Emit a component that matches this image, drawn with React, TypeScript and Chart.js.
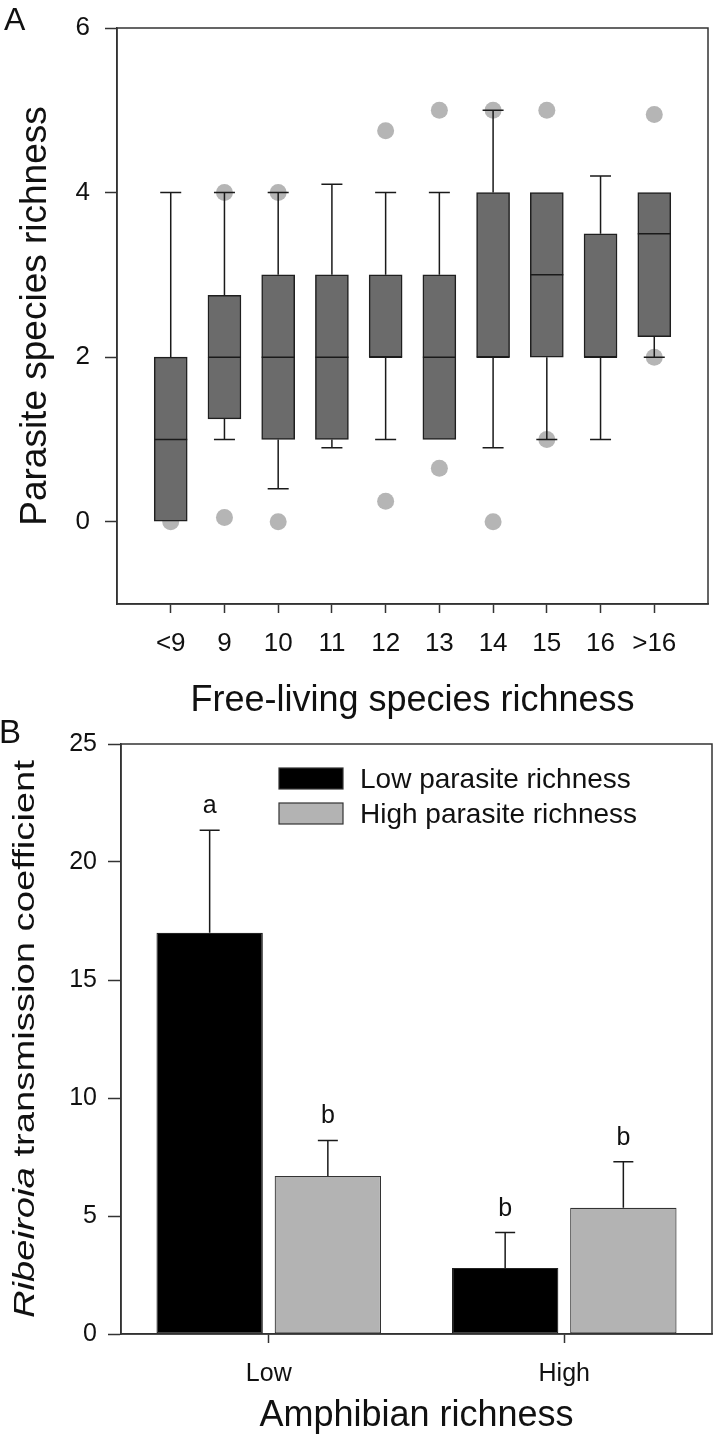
import React, { useEffect, useRef } from 'react';
import { Chart, registerables } from 'chart.js';

Chart.register(...registerables);

const FONT = "'Liberation Sans', Arial, Helvetica, sans-serif";

// ---------- Panel A data ----------
const categoriesA = ['<9', '9', '10', '11', '12', '13', '14', '15', '16', '>16'];
const whiskerLowA = [0, 1, 0.4, 0.9, 1, 1, 0.9, 1, 1, 2];
const q1A = [0, 1.25, 1, 1, 2, 1, 2, 2, 2, 2.25];
const medianA = [1, 2, 2, 2, 2, 2, 2, 3, 2, 3.5];
const q3A = [2, 2.75, 3, 3, 3, 3, 4, 4, 3.5, 4];
const whiskerHighA = [4, 4, 4, 4.1, 4, 4, 5, 4, 4.2, 4];
const outlierCatA = [0, 1, 1, 2, 2, 4, 4, 5, 5, 6, 6, 7, 7, 9, 9];
const outlierValA = [0, 4, 0.05, 4, 0, 4.75, 0.25, 5, 0.65, 5, 0, 5, 1, 4.95, 2];
const yTicksA = [0, 2, 4, 6];

// ---------- Panel B data ----------
const groupsB = ['Low', 'High'];
const seriesNamesB = ['Low parasite richness', 'High parasite richness'];
const lowParasiteB = [17.0, 2.8];
const highParasiteB = [6.7, 5.35];
const lowParasiteUpperB = [21.35, 4.3];
const highParasiteUpperB = [8.2, 7.3];
const lowLettersB = ['a', 'b'];
const highLettersB = ['b', 'b'];

const AXIS_COLOR = '#333';
const TEXT_COLOR = '#111';

const framePlugin = {
  id: 'frame',
  afterDraw(chart: any) {
    const { ctx, chartArea } = chart;
    ctx.save();
    ctx.strokeStyle = AXIS_COLOR;
    ctx.lineWidth = 1.5;
    ctx.strokeRect(chartArea.left, chartArea.top, chartArea.right - chartArea.left, chartArea.bottom - chartArea.top);
    ctx.restore();
  },
};

function panelLetter(letter: string, x: number, y: number, size: number) {
  return {
    id: 'panelLetter' + letter,
    afterDraw(chart: any) {
      const { ctx } = chart;
      ctx.save();
      ctx.fillStyle = TEXT_COLOR;
      ctx.font = `${size}px ${FONT}`;
      ctx.textBaseline = 'alphabetic';
      ctx.textAlign = 'left';
      ctx.fillText(letter, x, y);
      ctx.restore();
    },
  };
}

const boxPlugin = {
  id: 'boxWhiskers',
  afterDatasetsDraw(chart: any) {
    const { ctx } = chart;
    const xs = chart.scales.x;
    const ys = chart.scales.y;
    const capHalf = 10.5;
    const boxHalf = 16.5;
    ctx.save();
    ctx.strokeStyle = '#1a1a1a';
    ctx.lineWidth = 1.5;
    categoriesA.forEach((_, i) => {
      const x = xs.getPixelForValue(i + 1);
      const pQ1 = ys.getPixelForValue(q1A[i]);
      const pQ3 = ys.getPixelForValue(q3A[i]);
      const pLo = ys.getPixelForValue(whiskerLowA[i]);
      const pHi = ys.getPixelForValue(whiskerHighA[i]);
      const pMed = ys.getPixelForValue(medianA[i]);
      ctx.beginPath();
      if (whiskerHighA[i] > q3A[i]) {
        ctx.moveTo(x, pQ3);
        ctx.lineTo(x, pHi);
        ctx.moveTo(x - capHalf, pHi);
        ctx.lineTo(x + capHalf, pHi);
      }
      if (whiskerLowA[i] < q1A[i]) {
        ctx.moveTo(x, pQ1);
        ctx.lineTo(x, pLo);
        ctx.moveTo(x - capHalf, pLo);
        ctx.lineTo(x + capHalf, pLo);
      }
      ctx.moveTo(x - boxHalf, pMed);
      ctx.lineTo(x + boxHalf, pMed);
      ctx.stroke();
    });
    ctx.restore();
  },
};

const errorBarPlugin = {
  id: 'errorBars',
  afterDatasetsDraw(chart: any) {
    const { ctx } = chart;
    const ys = chart.scales.y;
    const uppers = [lowParasiteUpperB, highParasiteUpperB];
    const letters = [lowLettersB, highLettersB];
    ctx.save();
    ctx.strokeStyle = '#1a1a1a';
    ctx.lineWidth = 1.5;
    ctx.fillStyle = TEXT_COLOR;
    ctx.font = `25px ${FONT}`;
    ctx.textAlign = 'center';
    ctx.textBaseline = 'alphabetic';
    uppers.forEach((up, d) => {
      const meta = chart.getDatasetMeta(d);
      meta.data.forEach((el: any, i: number) => {
        const x = el.x;
        const yTop = el.y;
        const yErr = ys.getPixelForValue(up[i]);
        ctx.beginPath();
        ctx.moveTo(x, yTop);
        ctx.lineTo(x, yErr);
        ctx.moveTo(x - 10, yErr);
        ctx.lineTo(x + 10, yErr);
        ctx.stroke();
        ctx.fillText(letters[d][i], x, yErr - 17);
      });
    });
    ctx.restore();
  },
};

const legendPluginB = {
  id: 'legendB',
  afterDraw(chart: any) {
    const { ctx } = chart;
    const rows = [48, 83];
    ctx.save();
    chart.data.datasets.forEach((ds: any, d: number) => {
      const y = rows[d];
      ctx.fillStyle = ds.backgroundColor;
      ctx.fillRect(279, y, 64, 21);
      ctx.strokeStyle = '#333';
      ctx.lineWidth = 1.2;
      ctx.strokeRect(279, y, 64, 21);
      ctx.fillStyle = TEXT_COLOR;
      ctx.font = `28px ${FONT}`;
      ctx.textAlign = 'left';
      ctx.textBaseline = 'alphabetic';
      ctx.fillText(ds.label, 360, y + 20);
    });
    ctx.restore();
  },
};

const yTitlePluginB = {
  id: 'yTitleB',
  afterDraw(chart: any) {
    const { ctx, chartArea } = chart;
    const cy = (chartArea.top + chartArea.bottom) / 2;
    const size = 30;
    const targetLen = 558;
    ctx.save();
    ctx.font = `italic ${size}px ${FONT}`;
    const w1 = ctx.measureText('Ribeiroia').width;
    ctx.font = `${size}px ${FONT}`;
    const w2 = ctx.measureText(' transmission coefficient').width;
    const total = w1 + w2;
    const sx = targetLen / total;
    ctx.translate(34, cy);
    ctx.rotate(-Math.PI / 2);
    ctx.scale(sx, 1);
    ctx.fillStyle = TEXT_COLOR;
    ctx.textAlign = 'left';
    ctx.textBaseline = 'alphabetic';
    ctx.font = `italic ${size}px ${FONT}`;
    ctx.fillText('Ribeiroia', -total / 2, 0);
    ctx.font = `${size}px ${FONT}`;
    ctx.fillText(' transmission coefficient', -total / 2 + w1, 0);
    ctx.restore();
  },
};

function axisGrid(tickLength: number) {
  return {
    display: true,
    drawOnChartArea: false,
    drawTicks: true,
    offset: false,
    tickLength,
    tickColor: AXIS_COLOR,
    tickWidth: 1.5,
  };
}

const borderStyle = { display: true, color: AXIS_COLOR, width: 1.5 };

export default function App() {
  const refA = useRef<HTMLCanvasElement>(null);
  const refB = useRef<HTMLCanvasElement>(null);

  useEffect(() => {
    Chart.defaults.font.family = FONT;
    Chart.defaults.color = TEXT_COLOR;

    const boxData = categoriesA.map((_, i) => ({ x: i + 1, y: [q1A[i], q3A[i]] }));
    const outlierData = outlierCatA.map((c, i) => ({ x: c + 1, y: outlierValA[i] }));

    const chartA = new Chart(refA.current as HTMLCanvasElement, {
      type: 'bar',
      data: {
        datasets: [
          {
            type: 'scatter',
            data: outlierData,
            pointRadius: 8.5,
            pointBackgroundColor: '#b5b5b5',
            pointBorderWidth: 0,
            backgroundColor: '#b5b5b5',
            borderWidth: 0,
            order: 2,
          } as any,
          {
            type: 'bar',
            data: boxData as any,
            barThickness: 33,
            backgroundColor: '#6b6b6b',
            borderColor: '#1f1f1f',
            borderWidth: 1.5,
            borderSkipped: false,
            order: 1,
          } as any,
        ],
      },
      options: {
        responsive: false,
        animation: false,
        layout: { padding: { left: 0, right: 9, top: 14, bottom: 0 } },
        plugins: { legend: { display: false }, tooltip: { enabled: false } },
        scales: {
          x: {
            type: 'linear',
            min: 0,
            max: 11,
            offset: false,
            afterBuildTicks: (s: any) => {
              s.ticks = categoriesA.map((_, i) => ({ value: i + 1 }));
            },
            afterFit: (s: any) => {
              s.height = 116;
            },
            ticks: {
              callback: (v: any) => categoriesA[Math.round(Number(v)) - 1] ?? '',
              font: { size: 26, lineHeight: 1 },
              color: TEXT_COLOR,
              padding: 18,
              maxRotation: 0,
              autoSkip: false,
            },
            grid: axisGrid(9),
            border: borderStyle,
            title: {
              display: true,
              text: 'Free-living species richness',
              font: { size: 36, lineHeight: 1 },
              color: TEXT_COLOR,
              padding: { top: 0, bottom: 1 },
            },
          } as any,
          y: {
            min: -1,
            max: 6,
            afterBuildTicks: (s: any) => {
              s.ticks = yTicksA.map((v) => ({ value: v }));
            },
            afterFit: (s: any) => {
              s.width = 117;
            },
            ticks: { font: { size: 26, lineHeight: 1 }, color: TEXT_COLOR, padding: 15 },
            grid: axisGrid(12),
            border: borderStyle,
            title: {
              display: true,
              text: 'Parasite species richness',
              font: { size: 37, lineHeight: 1 },
              color: TEXT_COLOR,
              padding: { top: 17, bottom: 0 },
            },
          } as any,
        },
      },
      plugins: [boxPlugin, framePlugin, panelLetter('A', 4, 30, 32)],
    } as any);

    const chartB = new Chart(refB.current as HTMLCanvasElement, {
      type: 'bar',
      data: {
        labels: groupsB,
        datasets: [
          {
            label: seriesNamesB[0],
            data: lowParasiteB,
            backgroundColor: '#000000',
            borderColor: '#222',
            borderWidth: 1.2,
            borderSkipped: false,
          },
          {
            label: seriesNamesB[1],
            data: highParasiteB,
            backgroundColor: '#b3b3b3',
            borderColor: '#333',
            borderWidth: 1.2,
            borderSkipped: false,
          },
        ],
      },
      options: {
        responsive: false,
        animation: false,
        layout: { padding: { left: 0, right: 5, top: 24, bottom: 0 } },
        plugins: { legend: { display: false }, tooltip: { enabled: false } },
        scales: {
          x: {
            afterFit: (s: any) => {
              s.height = 107;
            },
            ticks: { font: { size: 25, lineHeight: 1 }, color: TEXT_COLOR, padding: 19 },
            grid: axisGrid(9),
            border: borderStyle,
            title: {
              display: true,
              text: 'Amphibian richness',
              font: { size: 36, lineHeight: 1 },
              color: TEXT_COLOR,
              padding: { top: 0, bottom: 7 },
            },
          } as any,
          y: {
            min: 0,
            max: 25,
            afterFit: (s: any) => {
              s.width = 121;
            },
            ticks: { stepSize: 5, font: { size: 25, lineHeight: 1 }, color: TEXT_COLOR, padding: 11 },
            grid: axisGrid(13),
            border: borderStyle,
          } as any,
        },
      },
      plugins: [errorBarPlugin, framePlugin, legendPluginB, yTitlePluginB, panelLetter('B', -1, 23, 33)],
    } as any);

    return () => {
      chartA.destroy();
      chartB.destroy();
    };
  }, []);

  return (
    <div style={{ position: 'absolute', left: 0, top: 0, width: 717, height: 1441, background: '#fff' }}>
      <canvas ref={refA} width={717} height={720} style={{ position: 'absolute', left: 0, top: 0 }} />
      <canvas ref={refB} width={717} height={721} style={{ position: 'absolute', left: 0, top: 720 }} />
    </div>
  );
}
